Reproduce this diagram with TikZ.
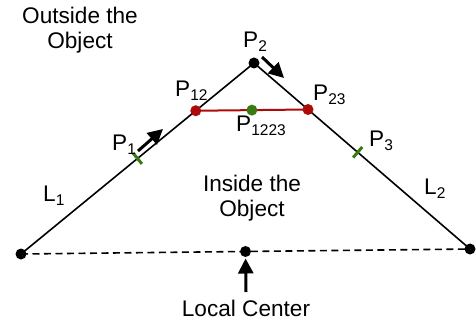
\documentclass[tikz,border=0pt]{standalone}
\usepackage{fontspec}
\setmainfont{Liberation Sans}
\usepackage{xcolor}
\usepackage{tikz}
\usetikzlibrary{arrows.meta,calc}
\definecolor{ptRed}{HTML}{AE0A0A}
\definecolor{ptGreen}{HTML}{3A7A12}
\newcommand\Pidx[2]{#1\raisebox{-3.5pt}{\fontsize{15.5}{15.5}\selectfont #2}}

\begin{document}
\begin{tikzpicture}[x=1pt,y=-1pt,
  font=\fontsize{22.6}{25}\selectfont,
  edge/.style={line width=1.6pt},
  chord/.style={ptRed, line width=2pt},
  tick/.style={ptGreen, line width=3pt},
  move/.style={line width=3pt, -{Triangle[length=15pt,width=15pt]}},
  lbl/.style={inner sep=0pt, anchor=base west}]
\useasboundingbox (0,0) rectangle (476,320);
\coordinate (A) at (21,254);
\coordinate (B) at (470,249);
\coordinate (P2) at (254,63);
\coordinate (P12) at ($(A)!0.75!(P2)$);
\coordinate (P23) at ($(P2)!0.25!(B)$);
\coordinate (P1223) at ($(P12)!0.5!(P23)$);
\coordinate (P1) at ($(A)!0.5!(P2)$);
\coordinate (P3) at ($(P2)!0.48!(B)$);
\coordinate (LC) at ($(A)!0.5!(B)$);
% lines
\draw[edge, dash pattern=on 7pt off 4.5pt] (A) -- (B);
\draw[edge] (A) -- (P2) -- (B);
\draw[chord] (P12) -- (P23);
\draw[tick] ($(P1)!7pt!90:(P2)$) -- ($(P1)!7pt!-90:(P2)$);
\draw[tick] ($(P3)!7pt!90:(B)$) -- ($(P3)!7pt!-90:(B)$);
% dots
\foreach \p in {A,B,P2,LC}{
  \fill (\p) circle (5.5);
}
\fill[ptRed] (P12) circle (5.5);
\fill[ptRed] (P23) circle (5.5);
\fill[ptGreen] (P1223) circle (5.5);
% arrows
\coordinate (arrAs) at (138,151);
\coordinate (arrAe) at (163,129);
\coordinate (arrBs) at (262,57);
\coordinate (arrBe) at (284,78);
\coordinate (lctail) at (246,292);
\draw[move] (arrAs) -- (arrAe);
\draw[move] (arrBs) -- (arrBe);
\draw[move, shorten >=7pt] (lctail) -- (LC);
% labels
\node[lbl] (lP2) at (243,48) {\Pidx{P}{2}};
\node[lbl] (lP12) at (175,97) {\Pidx{P}{12}};
\node[lbl] (lP23) at (313,101) {\Pidx{P}{23}};
\node[lbl] (lP1223) at (236,132) {\Pidx{P}{1223}};
\node[lbl] (lP1) at (112,151) {\Pidx{P}{1}};
\node[lbl] (lP3) at (369,147) {\Pidx{P}{3}};
\node[lbl] (lL1) at (43,202) {\Pidx{L}{1}};
\node[lbl] (lL2) at (424,195) {\Pidx{L}{2}};
\node[inner sep=0pt, anchor=base, align=center] (out) at (80,49) {Outside the\\Object};
\node[inner sep=0pt, anchor=base, align=center] (in) at (252,217) {Inside the\\Object};
\node[inner sep=0pt, anchor=base] (lLC) at (246,316) {Local Center};
\end{tikzpicture}
\end{document}
